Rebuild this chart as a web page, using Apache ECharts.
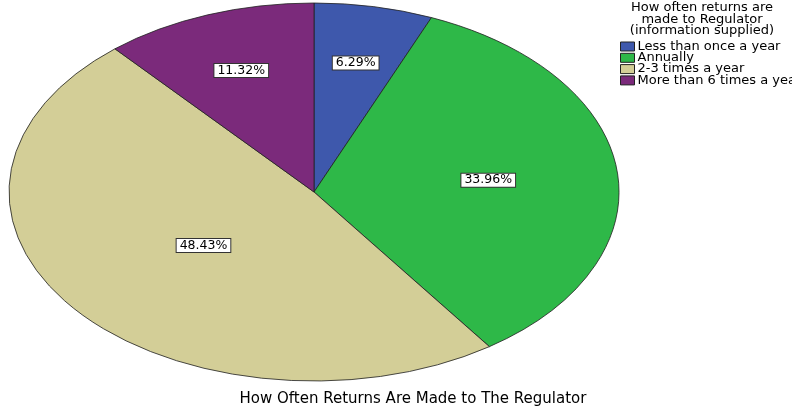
<!DOCTYPE html>
<html>
<head>
<meta charset="utf-8">
<script src="https://cdn.jsdelivr.net/npm/echarts@6/dist/echarts.min.js"></script>
<style>
  html, body { margin: 0; padding: 0; background: #fff; }
  #main { width: 792px; height: 409px; }
</style>
</head>
<body>
<div id="main"></div>
<script>
// data
var categories = ['Less than once a year', 'Annually', '2-3 times a year', 'More than 6 times a year'];
var values = [6.29, 33.96, 48.43, 11.32];
var colors = ['#3E58AC', '#2EB848', '#D3CE97', '#7B2A7B'];

var myChart = echarts.init(document.getElementById('main'));

var total = values.reduce(function (a, b) { return a + b; }, 0);
var font = '"DejaVu Sans", Verdana, sans-serif';

// elliptical pie drawn as a scaled circle sector
function makeRender(idx) {
    return function (params, api) {
        var w = api.getWidth();
        var cx = w * 0.3965, cy = 192, rx = 305, ry = 189;
        var before = 0;
        for (var k = 0; k < idx; k++) before += values[k];
        var v = api.value(0);
        var a0 = before / total * Math.PI * 2;
        var a1 = (before + v) / total * Math.PI * 2;
        var mid = (a0 + a1) / 2;
        var th = a1 - a0;
        // label near the sector centroid
        var c = 1.05 * 4 * Math.sin(th / 2) / (3 * th);
        return {
            type: 'group',
            children: [{
                type: 'sector',
                x: cx,
                y: cy,
                scaleY: ry / rx,
                shape: {
                    cx: 0, cy: 0, r: rx, r0: 0,
                    startAngle: a0 - Math.PI / 2,
                    endAngle: a1 - Math.PI / 2,
                    clockwise: true
                },
                style: {
                    fill: api.visual('color'),
                    stroke: '#222',
                    lineWidth: 1,
                    strokeNoScale: true
                }
            }, {
                type: 'text',
                x: cx + rx * c * Math.sin(mid),
                y: cy - ry * c * Math.cos(mid),
                z2: 10,
                style: {
                    text: v.toFixed(2) + '%',
                    font: '12.5px ' + font,
                    fill: '#000',
                    align: 'center',
                    verticalAlign: 'middle',
                    backgroundColor: '#fff',
                    borderColor: '#333',
                    borderWidth: 1,
                    padding: [0, 3, 0, 3]
                }
            }]
        };
    };
}

var option = {
    animation: false,
    title: [{
        text: 'How often returns are\nmade to Regulator\n(information supplied)',
        left: 702,
        top: 2,
        padding: 0,
        textAlign: 'center',
        textStyle: { fontFamily: font, fontSize: 13, fontWeight: 'normal', color: '#000', lineHeight: 11.5 }
    }, {
        text: 'How Often Returns Are Made to The Regulator',
        left: 413,
        top: 392,
        padding: 0,
        textAlign: 'center',
        textStyle: { fontFamily: font, fontSize: 15, fontWeight: 'normal', color: '#000' }
    }],
    legend: {
        orient: 'vertical',
        left: 620,
        top: 40,
        padding: 0,
        itemWidth: 14,
        itemHeight: 9,
        itemGap: -1.7,
        icon: 'rect',
        itemStyle: { borderColor: '#222', borderWidth: 1 },
        textStyle: { fontFamily: font, fontSize: 13, color: '#000', lineHeight: 11.3, padding: [0, 0, 0, -2] },
        data: categories
    },
    series: categories.map(function (name, i) {
        return {
            type: 'custom',
            name: name,
            coordinateSystem: 'none',
            itemStyle: { color: colors[i] },
            renderItem: makeRender(i),
            data: [values[i]]
        };
    })
};

myChart.setOption(option);
</script>
</body>
</html>
